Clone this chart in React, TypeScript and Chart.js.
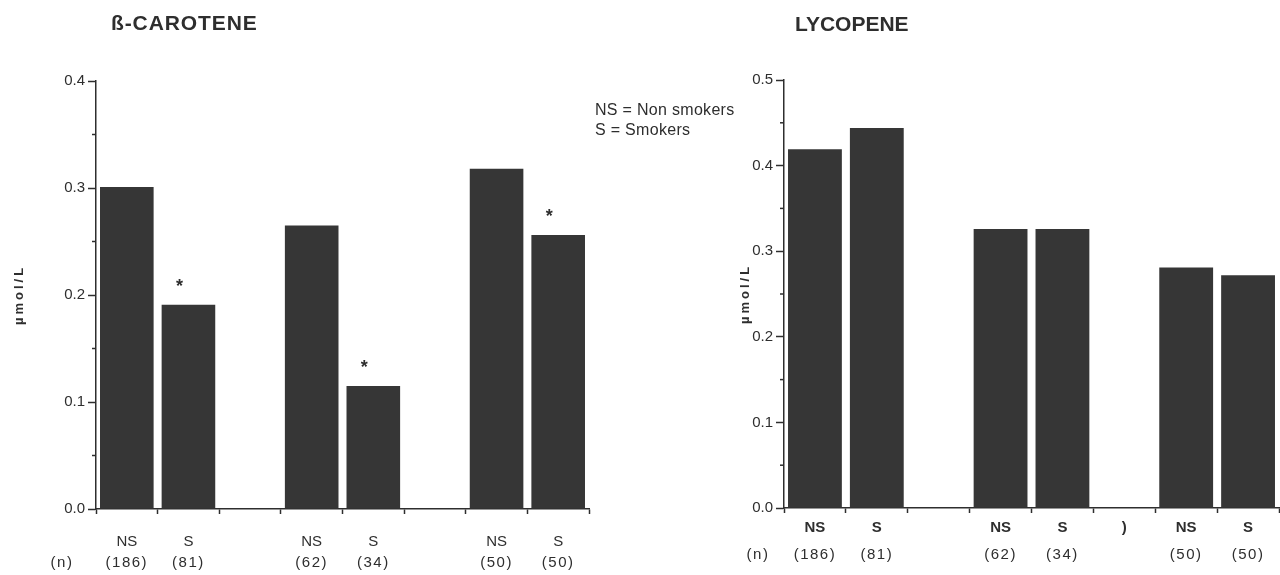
import React, { useEffect, useRef } from 'react';
import { Chart, registerables } from 'chart.js';

Chart.register(...registerables);

// ---------- data ----------
const caroteneCategories = ['NS', 'S', '', 'NS', 'S', '', 'NS', 'S'];
const caroteneValues = [0.301, 0.191, null, 0.265, 0.115, null, 0.318, 0.256];
const caroteneStars = [false, true, false, false, true, false, false, true];
const caroteneMajorTicks = [0, 0.1, 0.2, 0.3, 0.4];
const caroteneMinorTicks = [0.05, 0.15, 0.25, 0.35];

const lycopeneCategories = ['NS', 'S', '', 'NS', 'S', ')', 'NS', 'S'];
const lycopeneValues = [0.419, 0.444, null, 0.326, 0.326, null, 0.281, 0.272];
const lycopeneStars = [false, false, false, false, false, false, false, false];
const lycopeneMajorTicks = [0, 0.1, 0.2, 0.3, 0.4, 0.5];
const lycopeneMinorTicks = [0.05, 0.15, 0.25, 0.35, 0.45];

const countLabels = ['(186)', '(81)', '', '(62)', '(34)', '', '(50)', '(50)'];
const countHeader = '(n)';
const yTitle = 'µmol/L';
const legendLines = ['NS = Non smokers', 'S = Smokers'];

const INK = '#2e2e2e';
const BAR = '#363636';
const FONT = '"Liberation Sans", Arial, Helvetica, sans-serif';

type PanelCfg = {
  categories: string[];
  values: (number | null)[];
  stars: boolean[];
  major: number[];
  minor: number[];
  left: number;
  right: number;
  top: number;
  bottom: number;
  labelBold: boolean;
  labelPadding: number;
  countY: number;
  headerDx: number;
  titleX: number;
};

function makeChart(canvas: HTMLCanvasElement, cfg: PanelCfg) {
  const W = 640;
  const H = 575;
  const extras = {
    id: 'extras',
    afterDraw(chart: any) {
      const ctx = chart.ctx as CanvasRenderingContext2D;
      const xs = chart.scales.x;
      const ys = chart.scales.y;
      ctx.save();
      ctx.strokeStyle = INK;
      ctx.lineWidth = 1.5;
      cfg.minor.forEach((v) => {
        const py = ys.getPixelForValue(v);
        ctx.beginPath();
        ctx.moveTo(chart.chartArea.left - 4, py);
        ctx.lineTo(chart.chartArea.left, py);
        ctx.stroke();
      });
      const meta = chart.getDatasetMeta(0);
      ctx.fillStyle = INK;
      ctx.font = `bold 18px ${FONT}`;
      ctx.textAlign = 'center';
      ctx.textBaseline = 'alphabetic';
      cfg.stars.forEach((s, i) => {
        if (!s) return;
        const el = meta.data[i];
        ctx.fillText('*', el.x - 9, el.y - 13);
      });
      ctx.font = `15px ${FONT}`;
      (ctx as any).letterSpacing = '1.5px';
      ctx.textBaseline = 'middle';
      countLabels.forEach((t, i) => {
        if (!t) return;
        ctx.fillText(t, xs.getPixelForValue(i), cfg.countY);
      });
      ctx.fillText(countHeader, chart.chartArea.left + cfg.headerDx, cfg.countY);
      ctx.font = `bold 13px ${FONT}`;
      (ctx as any).letterSpacing = '3px';
      ctx.translate(cfg.titleX, (chart.chartArea.top + chart.chartArea.bottom) / 2);
      ctx.rotate(-Math.PI / 2);
      ctx.fillText(yTitle, 0, 0);
      (ctx as any).letterSpacing = '0px';
      ctx.restore();
    },
  };

  return new Chart(canvas, {
    type: 'bar',
    data: {
      labels: cfg.categories,
      datasets: [
        {
          data: cfg.values as any,
          backgroundColor: BAR,
          borderWidth: 0,
          barPercentage: 0.87,
          categoryPercentage: 1,
        },
      ],
    },
    options: {
      animation: false,
      responsive: false,
      maintainAspectRatio: false,
      layout: {
        padding: { left: 0, right: W - cfg.right, top: cfg.top, bottom: 0 },
      },
      plugins: {
        legend: { display: false },
        tooltip: { enabled: false },
        title: { display: false },
      },
      scales: {
        x: {
          offset: true,
          grid: {
            offset: true,
            drawOnChartArea: false,
            drawTicks: true,
            tickLength: 5,
            tickColor: INK,
            tickWidth: 1.5,
          },
          border: { display: true, color: INK, width: 1.5 },
          ticks: {
            color: INK,
            font: { family: FONT, size: 15, weight: cfg.labelBold ? 'bold' : 'normal' },
            padding: cfg.labelPadding,
            maxRotation: 0,
            autoSkip: false,
          },
          afterFit: (scale: any) => {
            scale.height = H - cfg.bottom;
          },
        },
        y: {
          min: 0,
          max: cfg.major[cfg.major.length - 1],
          afterBuildTicks: (scale: any) => {
            scale.ticks = cfg.major.map((v) => ({ value: v }));
          },
          grid: {
            drawOnChartArea: false,
            drawTicks: true,
            tickLength: 8,
            tickColor: INK,
            tickWidth: 1.5,
          },
          border: { display: true, color: INK, width: 1.5 },
          ticks: {
            color: INK,
            font: { family: FONT, size: 15 },
            padding: 3,
            callback: (v: any) => Number(v).toFixed(1),
          },
          afterFit: (scale: any) => {
            scale.width = cfg.left;
          },
        },
      },
    },
    plugins: [extras],
  });
}

function Panel({ cfg, x }: { cfg: PanelCfg; x: number }) {
  const ref = useRef<HTMLCanvasElement | null>(null);
  useEffect(() => {
    if (!ref.current) return;
    const c = makeChart(ref.current, cfg);
    return () => c.destroy();
  }, []);
  return (
    <canvas
      ref={ref}
      width={640}
      height={575}
      style={{ position: 'absolute', left: x, top: 0, width: 640, height: 575 }}
    />
  );
}

const leftCfg: PanelCfg = {
  categories: caroteneCategories,
  values: caroteneValues,
  stars: caroteneStars,
  major: caroteneMajorTicks,
  minor: caroteneMinorTicks,
  left: 96,
  right: 589,
  top: 81,
  bottom: 509,
  labelBold: false,
  labelPadding: 19,
  countY: 563,
  headerDx: -34,
  titleX: 19,
};

const rightCfg: PanelCfg = {
  categories: lycopeneCategories,
  values: lycopeneValues,
  stars: lycopeneStars,
  major: lycopeneMajorTicks,
  minor: lycopeneMinorTicks,
  left: 144,
  right: 639,
  top: 80,
  bottom: 508,
  labelBold: true,
  labelPadding: 6,
  countY: 555,
  headerDx: -26,
  titleX: 105,
};

export default function App() {
  return (
    <div
      style={{
        position: 'fixed',
        left: 0,
        top: 0,
        width: 1280,
        height: 575,
        background: '#ffffff',
        overflow: 'hidden',
        fontFamily: FONT,
        color: INK,
      }}
    >
      <Panel cfg={leftCfg} x={0} />
      <Panel cfg={rightCfg} x={640} />
      <div
        style={{
          position: 'absolute',
          left: 111,
          top: 12,
          fontSize: 21,
          lineHeight: '21px',
          fontWeight: 'bold',
          letterSpacing: '0.9px',
          whiteSpace: 'nowrap',
        }}
      >
        ß-CAROTENE
      </div>
      <div
        style={{
          position: 'absolute',
          left: 795,
          top: 13,
          fontSize: 21,
          lineHeight: '21px',
          fontWeight: 'bold',
          whiteSpace: 'nowrap',
        }}
      >
        LYCOPENE
      </div>
      <div
        style={{
          position: 'absolute',
          left: 595,
          top: 100,
          fontSize: 16,
          lineHeight: '20px',
          letterSpacing: '0.3px',
          whiteSpace: 'nowrap',
        }}
      >
        {legendLines.map((l, i) => (
          <div key={i}>{l}</div>
        ))}
      </div>
    </div>
  );
}
